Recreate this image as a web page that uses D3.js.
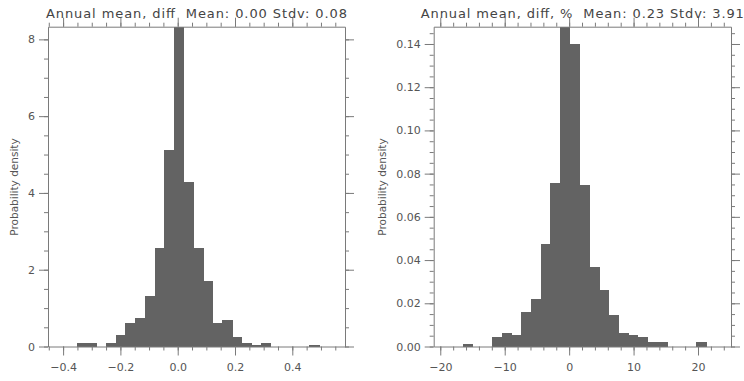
<!DOCTYPE html>
<html>
<head>
<meta charset="utf-8">
<script src="https://cdn.jsdelivr.net/npm/d3@7"></script>
<style>
  body { margin: 0; background: #fff; }
  text { font-family: "DejaVu Sans", sans-serif; }
</style>
</head>
<body>
<svg width="744" height="381"></svg>
<script>
// left panel: annual mean diff
const leftTitle = 'Annual mean, diff  Mean: 0.00 Stdv: 0.08'
const leftXDomain = [-0.4527, 0.5839]
const leftBinWidth = 0.0338
const leftDensity = [0, 0, 0, 0.08, 0.08, 0, 0.1, 0.31, 0.6, 0.75, 1.32, 2.57, 5.12, 8.33, 4.28,
  2.57, 1.71, 0.6, 0.7, 0.26, 0.1, 0.05, 0.1, 0, 0, 0, 0, 0.05, 0, 0, 0]
const leftXTicks = [-0.4, -0.2, 0.0, 0.2, 0.4]
const leftYTicks = [0, 2, 4, 6, 8]

// right panel: annual mean diff in %
const rightTitle = 'Annual mean, diff, %  Mean: 0.23 Stdv: 3.91'
const rightXDomain = [-21.02, 25.12]
const rightBinWidth = 1.509
const rightDensity = [0, 0, 0, 0.001, 0, 0, 0.0044, 0.0063, 0.0053, 0.016, 0.022, 0.0475, 0.0758, 0.148, 0.1402,
  0.0749, 0.0369, 0.0262, 0.0146, 0.0063, 0.0053, 0.0044, 0.0021, 0.0021, 0, 0, 0, 0.0021, 0, 0, 0]
const rightXTicks = [-20, -10, 0, 10, 20]
const rightYTicks = [0, 0.02, 0.04, 0.06, 0.08, 0.10, 0.12, 0.14]

const axisColor = '#7a7a7a'
const textColor = '#555'
const barColor = '#636363'

function drawPanel(opt) {
  const svg = d3.select('svg')
  const g = svg.append('g')
  const xs = d3.scaleLinear().domain(opt.xDomain).range([opt.left, opt.right])
  const ys = d3.scaleLinear().domain([0, d3.max(opt.density)]).range([opt.bottom, opt.top])

  const bins = opt.density.map(function(d, i) {
    const x0 = opt.xDomain[0] + i * opt.binWidth
    return {x0: x0, x1: Math.min(x0 + opt.binWidth, opt.xDomain[1]), v: d}
  }).filter(function(b) { return b.x0 < opt.xDomain[1] && b.v > 0 })

  g.selectAll('rect').data(bins).enter().append('rect')
    .attr('x', function(d) { return xs(d.x0) })
    .attr('y', function(d) { return ys(d.v) })
    .attr('width', function(d) { return xs(d.x1) - xs(d.x0) + 0.6 })
    .attr('height', function(d) { return ys(0) - ys(d.v) })
    .attr('fill', barColor)
    .attr('shape-rendering', 'crispEdges')

  const xMinor = d3.range(opt.xTicks[0] - opt.xMinorStep * 2, opt.xDomain[1], opt.xMinorStep)
    .filter(function(v) { return v >= opt.xDomain[0] - 1e-9 && v <= opt.xDomain[1] + 1e-9 })
  const yMinor = d3.range(0, ys.domain()[1], opt.yMinorStep)

  function axis(gen, scale, ticks, minor, fmt, tx, ty, pad) {
    const a = g.append('g').attr('transform', 'translate(' + tx + ',' + ty + ')')
    a.call(gen(scale).tickValues(minor).tickSize(4).tickSizeOuter(0).tickFormat(''))
    const b = g.append('g').attr('transform', 'translate(' + tx + ',' + ty + ')')
    b.call(gen(scale).tickValues(ticks).tickSize(9).tickSizeOuter(0).tickFormat(fmt).tickPadding(pad))
    b.select('.domain').remove()
    ;[a, b].forEach(function(s) {
      s.selectAll('line').attr('stroke', axisColor)
      s.selectAll('.domain').attr('stroke', axisColor)
      s.selectAll('text').attr('fill', textColor).style('font-size', '11px')
        .style('font-family', '"DejaVu Sans", sans-serif')
    })
  }
  axis(d3.axisBottom, xs, opt.xTicks, xMinor, opt.xFmt, 0, opt.bottom, 8)
  axis(d3.axisTop, xs, opt.xTicks, xMinor, '', 0, opt.top, 4)
  axis(d3.axisLeft, ys, opt.yTicks, yMinor, opt.yFmt, opt.left, 0, 4)
  axis(d3.axisRight, ys, opt.yTicks, yMinor, '', opt.right, 0, 4)

  g.append('text')
    .attr('x', (opt.left + opt.right) / 2)
    .attr('y', 18)
    .attr('text-anchor', 'middle')
    .attr('fill', '#444')
    .style('font-size', '13px')
    .style('white-space', 'pre')
    .attr('xml:space', 'preserve')
    .attr('textLength', opt.titleWidth)
    .text(opt.title)

  g.append('text')
    .attr('transform', 'translate(' + opt.labelX + ',187) rotate(-90)')
    .attr('text-anchor', 'middle')
    .attr('fill', textColor)
    .style('font-size', '10.5px')
    .text('Probability density')
}

drawPanel({
  left: 48, right: 345, top: 26.7, bottom: 346.5,
  xDomain: leftXDomain, binWidth: leftBinWidth, density: leftDensity,
  xTicks: leftXTicks, yTicks: leftYTicks, xMinorStep: 0.05, yMinorStep: 0.5,
  xFmt: d3.format('.1f'), yFmt: d3.format('d'),
  title: leftTitle, titleWidth: 301, labelX: 18
})
drawPanel({
  left: 433.7, right: 731, top: 26.7, bottom: 346.5,
  xDomain: rightXDomain, binWidth: rightBinWidth, density: rightDensity,
  xTicks: rightXTicks, yTicks: rightYTicks, xMinorStep: 2, yMinorStep: 0.005,
  xFmt: d3.format('d'), yFmt: d3.format('.2f'),
  title: rightTitle, titleWidth: 323, labelX: 386
})
</script>
</body>
</html>
